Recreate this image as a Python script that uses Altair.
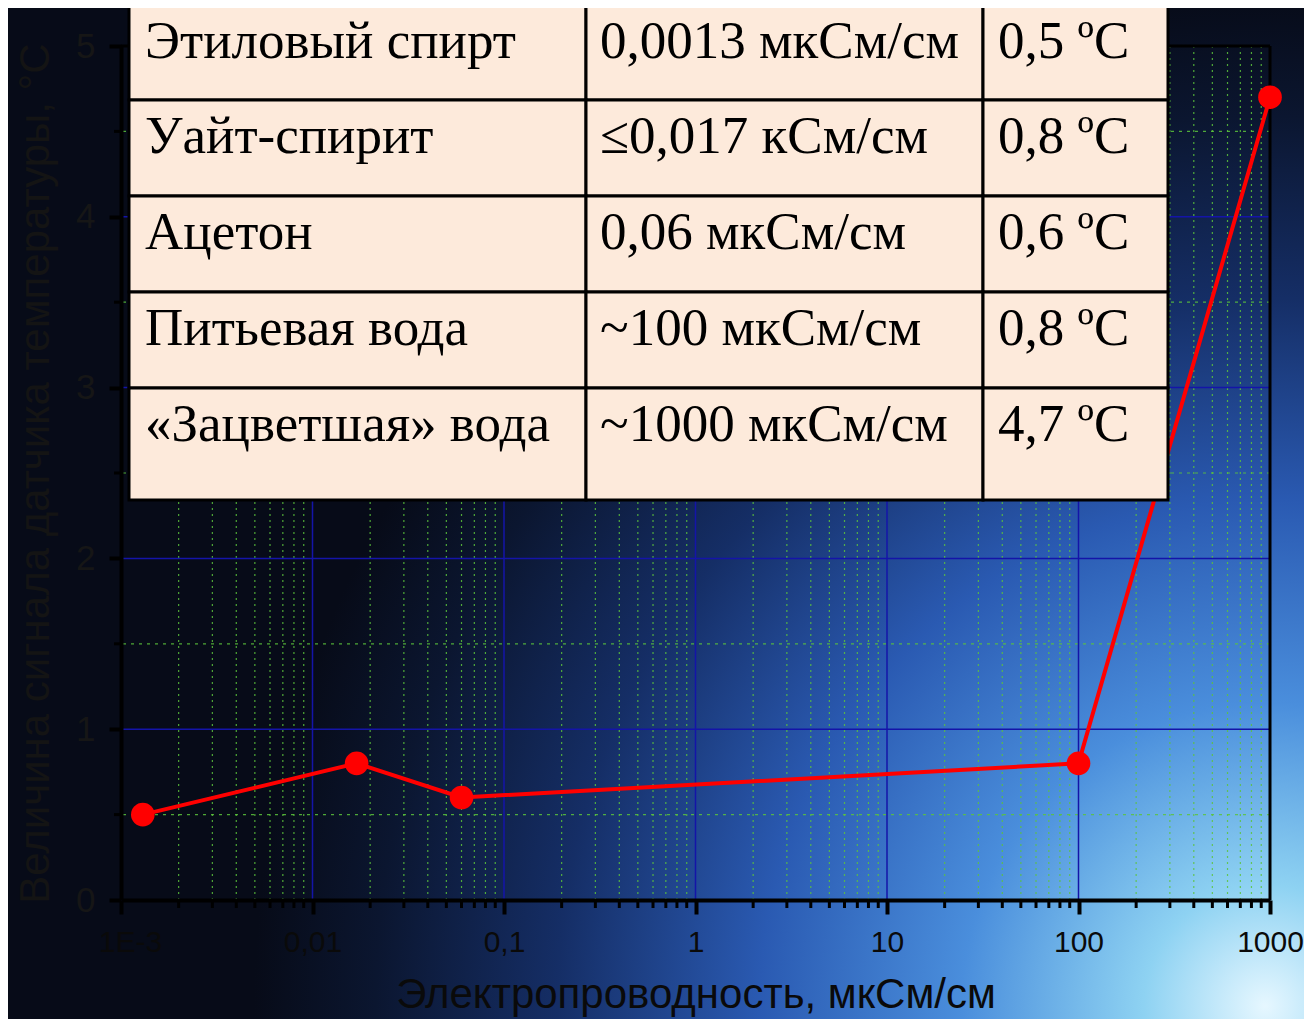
import altair as alt
import pandas as pd

# ---------------- data ----------------
conductivity = [0.0013, 0.017, 0.06, 100, 1000]          # мкСм/см
signal = [0.5, 0.8, 0.6, 0.8, 4.7]                        # °C

substances = ["Этиловый спирт", "Уайт-спирит", "Ацетон", "Питьевая вода", "«Зацветшая» вода"]
cond_labels = ["0,0013 мкСм/см", "≤0,017 кСм/см", "0,06 мкСм/см", "~100 мкСм/см", "~1000 мкСм/см"]
temp_labels = ["0,5 ºC", "0,8 ºC", "0,6 ºC", "0,8 ºC", "4,7 ºC"]

x_tick_values = [0.001, 0.01, 0.1, 1, 10, 100, 1000]
x_tick_labels = ["1E-3", "0,01", "0,1", "1", "10", "100", "1000"]
y_tick_values = [0, 1, 2, 3, 4, 5]
y_minor_values = [0.5, 1.5, 2.5, 3.5, 4.5]
x_minor_values = [m * 10.0 ** e for e in range(-3, 3) for m in range(2, 10)]

x_title = "Электропроводность, мкСм/см"
y_title = "Величина сигнала датчика температуры, °С"

# ---------------- layout ----------------
W, H = 1149, 854
PAD = {"left": 113, "top": 38, "right": 34, "bottom": 119}

# table layout (pixels, relative to plot origin)
col_edges = [8, 465, 862, 1047]
row_edges = [-41, 54, 150, 246, 342, 454]
text_dx = [16, 14, 15]
text_dy = 53

label_expr = " : ".join(
    f"abs(datum.value - {v}) < {v} * 1e-6 ? '{l}'" for v, l in zip(x_tick_values, x_tick_labels)
) + " : ''"

SANS = "Liberation Sans"

x_scale = alt.Scale(type="log", domain=[0.001, 1000], nice=False)
y_scale = alt.Scale(domain=[0, 5], nice=False, zero=False)

x_axis = alt.Axis(
    values=x_tick_values, labelExpr=label_expr, grid=False, zindex=1,
    domainColor="#000000", domainWidth=4, tickColor="#000000", tickWidth=4, tickSize=14,
    labelFont=SANS, labelFontSize=30, labelColor="#0a0a0a", labelPadding=13,
    labelFlush=False, labelOverlap=False,
    labelOffset={"condition": {"test": "datum.value < 0.002", "value": 9}, "value": 0},
    titleFont=SANS, titleFontSize=42, titleFontWeight="normal", titleColor="#0a0a0a",
    titlePadding=17,
)
y_axis = alt.Axis(
    values=y_tick_values, grid=False, zindex=1, format="d",
    domainColor="#000000", domainWidth=4, tickColor="#000000", tickWidth=4, tickSize=12,
    labelFont=SANS, labelFontSize=35, labelColor="#161616", labelPadding=14,
    labelFlush=False, labelOverlap=False,
    titleFont=SANS, titleFontSize=42, titleFontWeight="normal", titleColor="#141414",
    titlePadding=18,
)

main_df = pd.DataFrame({"cond": conductivity, "sig": signal})
xmaj_df = pd.DataFrame({"cond": x_tick_values})
xmin_df = pd.DataFrame({"cond": x_minor_values})
ymaj_df = pd.DataFrame({"sig": y_tick_values})
ymin_df = pd.DataFrame({"sig": y_minor_values})

X = lambda: alt.X("cond:Q", scale=x_scale, axis=x_axis, title=x_title)
Y = lambda: alt.Y("sig:Q", scale=y_scale, axis=y_axis, title=y_title)

gradient = {
    "gradient": "radial",
    "x1": 0.97, "y1": 0.88, "r1": 0,
    "x2": 0.97, "y2": 0.88, "r2": 0.78,
    "stops": [
        {"offset": 0.0, "color": "#e6f7ff"},
        {"offset": 0.12, "color": "#8ed2f2"},
        {"offset": 0.3, "color": "#4a8edc"},
        {"offset": 0.5, "color": "#2a5ab2"},
        {"offset": 0.7, "color": "#152e66"},
        {"offset": 0.88, "color": "#0b1630"},
        {"offset": 1.0, "color": "#070b18"},
    ],
}

bg = alt.Chart(pd.DataFrame({"a": [0]})).mark_rect(fill=gradient, strokeWidth=0).encode(
    x=alt.value(-PAD["left"]), x2=alt.value(W + PAD["right"]),
    y=alt.value(-PAD["top"]), y2=alt.value(H + PAD["bottom"]),
)

grid_xmin = alt.Chart(xmin_df).mark_rule(color="#5cc43c", strokeWidth=1.2, strokeDash=[2, 4], opacity=0.85).encode(x=X())
grid_ymin = alt.Chart(ymin_df).mark_rule(color="#5cc43c", strokeWidth=1.2, strokeDash=[3, 5], opacity=0.85).encode(y=Y())
grid_xmaj = alt.Chart(xmaj_df).mark_rule(color="#1414a8", strokeWidth=1.5).encode(x=X())
grid_ymaj = alt.Chart(ymaj_df).mark_rule(color="#1414a8", strokeWidth=1.5).encode(y=Y())

tick_xmin = alt.Chart(xmin_df).mark_rule(color="#000000", strokeWidth=3).encode(
    x=X(), y=alt.value(H), y2=alt.value(H + 8))
tick_ymin = alt.Chart(ymin_df).mark_rule(color="#000000", strokeWidth=3).encode(
    y=Y(), x=alt.value(-7), x2=alt.value(0))

frame_top = alt.Chart(pd.DataFrame({"a": [0]})).mark_rule(color="#000000", strokeWidth=3).encode(
    x=alt.value(0), x2=alt.value(W), y=alt.value(0))
frame_right = alt.Chart(pd.DataFrame({"a": [0]})).mark_rule(color="#000000", strokeWidth=3).encode(
    x=alt.value(W), y=alt.value(0), y2=alt.value(H))

line = alt.Chart(main_df).mark_line(color="#ff0000", strokeWidth=4).encode(x=X(), y=Y())
points = alt.Chart(main_df).mark_circle(color="#ff0000", size=560, opacity=1).encode(x=X(), y=Y())

# table cells
cells = []
for r in range(len(substances)):
    texts = [substances[r], cond_labels[r], temp_labels[r]]
    for c in range(3):
        cells.append({
            "x0": col_edges[c], "x1": col_edges[c + 1],
            "y0": row_edges[r], "y1": row_edges[r + 1],
            "tx": col_edges[c] + text_dx[c], "ty": row_edges[r] + text_dy,
            "text": texts[c],
        })
cells_df = pd.DataFrame(cells)

table_rect = alt.Chart(cells_df).mark_rect(fill="#fdeadb", stroke="#000000", strokeWidth=3).encode(
    x=alt.X("x0:Q", scale=None, axis=None), x2="x1:Q",
    y=alt.Y("y0:Q", scale=None, axis=None), y2="y1:Q",
)
table_text = alt.Chart(cells_df).mark_text(
    align="left", baseline="alphabetic", font="Liberation Serif", fontSize=53, color="#000000"
).encode(
    x=alt.X("tx:Q", scale=None, axis=None),
    y=alt.Y("ty:Q", scale=None, axis=None),
    text="text:N",
)

chart = alt.layer(
    bg, grid_xmin, grid_ymin, grid_xmaj, grid_ymaj, frame_top, frame_right,
    line, points, tick_xmin, tick_ymin, table_rect, table_text,
).properties(
    width=W, height=H,
    autosize=alt.AutoSizeParams(type="none"),
    padding=PAD,
    background="#070b18",
).configure_view(stroke=None)

chart.save("out.html", embed_options={"renderer": "svg", "actions": False})
